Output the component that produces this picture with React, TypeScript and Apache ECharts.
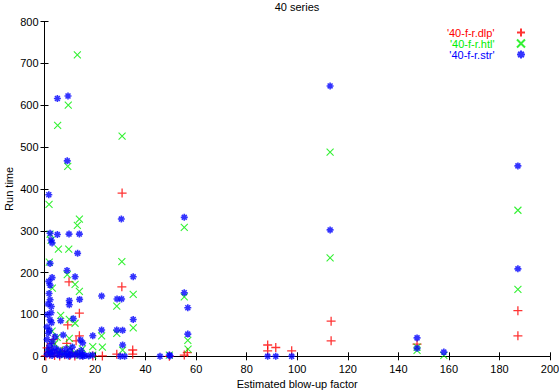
import React, { useEffect, useRef } from "react";
import * as echarts from "echarts";

const title = "40 series";
const xName = "Estimated blow-up factor";
const yName = "Run time";
const seriesNames = ["'40-f-r.dlp'", "'40-f-r.htl'", "'40-f-r.str'"];
const seriesColors = ["#ff0000", "#00ee00", "#0000ff"];

// [estimated blow-up factor, run time]
const dlpPoints: [number, number][] = [
  [30.7, 390], [9.7, 178], [30.6, 166], [13.8, 103], [9.2, 75], [13.8, 49],
  [12.5, 37], [8.8, 31], [2.8, 31], [34.9, 15], [34.9, 5], [28.6, 5],
  [22.9, 1], [19.1, 1], [55.3, 3], [56.5, 9], [88.3, 27], [88.3, 13],
  [91.5, 21], [97.8, 13], [113.4, 84], [113.4, 37], [187.3, 109], [187.3, 49],
  [147.4, 29], [49.4, 0], [2, 5], [3, 15], [4, 2], [5, 8], [6, 1], [7, 12],
  [8, 4], [10, 2], [11, 9], [12, 1], [13, 6], [15, 3], [1, 20], [0.5, 1],
  [3.5, 40], [1.5, 10],
];

const htlPoints: [number, number][] = [
  [13.0, 720], [9.4, 600], [5.2, 552], [30.7, 526], [9.2, 454], [1.8, 363],
  [113, 488], [113, 235], [55.3, 308], [13.8, 328], [13.0, 313], [2.6, 277],
  [2.2, 292], [5.5, 256], [9.6, 256], [30.6, 226], [1.9, 225], [9.0, 195],
  [12.1, 172], [3.1, 163], [13.8, 155], [35.1, 148], [55.3, 142], [28.6, 120],
  [35.1, 68], [56.7, 38], [56.8, 17], [22.6, 49], [19.1, 23], [22.9, 22],
  [28.6, 55], [30.9, 15], [6.4, 98], [9.8, 88], [12.1, 79], [9.8, 43],
  [187.3, 349], [187.3, 160], [147.4, 22], [147.4, 14], [158, 2], [49.4, 3],
  [2, 10], [4, 30], [6, 15], [8, 5], [10, 20], [12, 8], [14, 3], [3, 60],
  [5, 45], [15, 18], [19.1, 3],
];

const strPoints: [number, number][] = [
  [5.1, 616], [9.3, 622], [9.0, 467], [1.7, 386], [113, 646], [30.4, 328],
  [55.3, 332], [2.2, 294], [5.1, 291], [9.7, 292], [13.8, 292], [2.6, 278],
  [3.0, 271], [13.1, 246], [2.2, 222], [8.9, 205], [12.1, 190], [35.1, 190],
  [1.7, 179], [3.0, 188], [2.2, 170], [55.3, 152], [56.7, 116], [22.6, 144],
  [28.7, 137], [30.5, 137], [9.8, 133], [9.8, 123], [13.9, 136], [2.2, 135],
  [2.7, 119], [2.6, 104], [2.2, 87], [2.8, 80], [6.4, 85], [11.4, 90],
  [35.1, 88], [56.7, 53], [22.6, 63], [19.1, 49], [28.6, 63], [30.9, 62],
  [30.9, 27], [7.4, 51], [4.2, 47], [14.3, 39], [15.1, 32], [45.7, 0],
  [49.7, 1], [49.4, 3], [88.3, 0], [91.5, 0], [97.8, 0], [113, 302],
  [187.3, 455], [187.3, 209], [147.4, 44], [147.4, 19], [158, 10],
  [1, 5], [1.5, 15], [2, 25], [2.5, 8], [3, 2], [3.5, 12], [4, 20], [5, 5],
  [5.5, 15], [6, 2], [7, 10], [8, 3], [8.5, 18], [9, 6], [9.5, 1], [10, 12],
  [10.5, 4], [11, 22], [12, 3], [13, 8], [14, 1], [14.5, 14], [15, 5], [16, 2],
  [1, 40], [1.5, 55], [2, 62], [1, 70], [3, 35], [17.5, 1], [19, 3], [30, 0],
  [31.7, 0], [15.2, 0], [1.2, 100], [1.8, 150], [1.4, 125],
];

const seriesData = [dlpPoints, htlPoints, strPoints];

const plusPath = "path://M0,5L10,5M5,0L5,10";
const crossPath = "path://M1,1L9,9M1,9L9,1";
const starPath = "path://M0,5L10,5M5,0L5,10M1.5,1.5L8.5,8.5M1.5,8.5L8.5,1.5";
const symbols = [plusPath, crossPath, starPath];
const symbolSizes = [9, 7, 7];
const borderWidths = [1.3, 1.1, 1.6];

const font = "Liberation Sans";

export default function App() {
  const ref = useRef<HTMLDivElement>(null);
  useEffect(() => {
    if (!ref.current) return;
    const chart = echarts.init(ref.current, null, { renderer: "svg" });
    const axisCommon = {
      axisLine: { show: true, lineStyle: { color: "#000", width: 1 } },
      axisTick: { show: true, inside: true, length: 4, lineStyle: { color: "#000" } },
      splitLine: { show: false },
    };
    chart.setOption({
      animation: false,
      backgroundColor: "#fff",
      title: {
        text: title,
        left: 297,
        textAlign: "center",
        top: 1,
        padding: 0,
        textStyle: { fontFamily: font, fontSize: 11, fontWeight: "normal", color: "#000" },
      },
      legend: {
        orient: "vertical",
        right: 33,
        top: 27,
        align: "right",
        itemGap: 0,
        itemWidth: 9,
        itemHeight: 8,
        formatter: (name: string) => `{t|${name}}`,
        data: seriesNames.map((n, i) => ({
          name: n,
          icon: symbols[i],
          textStyle: {
            color: seriesColors[i],
            fontFamily: font,
            fontSize: 11,
            lineHeight: 11,
            rich: { t: { color: seriesColors[i], fontFamily: font, fontSize: 11, lineHeight: 11, padding: [0, 17, 0, 0] } },
          },
        })),
        padding: 0,
      },
      grid: {
        left: 44.5,
        right: 9,
        top: 21.5,
        bottom: 35.7,
        containLabel: false,
        outerBoundsMode: "none",
      },
      xAxis: [
        {
          type: "value",
          min: 0,
          max: 200,
          interval: 20,
          name: xName,
          nameLocation: "middle",
          nameGap: 22,
          nameMoveOverlap: false,
          nameTextStyle: { fontFamily: font, fontSize: 11, color: "#000" },
          axisLabel: { fontFamily: font, fontSize: 11, color: "#000", margin: 7 },
          ...axisCommon,
        },
        {
          type: "value",
          position: "top",
          min: 0,
          max: 200,
          interval: 20,
          axisLabel: { show: false },
          ...axisCommon,
        },
      ],
      yAxis: [
        {
          type: "value",
          min: 0,
          max: 800,
          interval: 100,
          name: yName,
          nameLocation: "middle",
          nameGap: 30,
          nameMoveOverlap: false,
          nameTextStyle: { fontFamily: font, fontSize: 11, lineHeight: 11, color: "#000" },
          axisLabel: { fontFamily: font, fontSize: 11, color: "#000", margin: 6 },
          ...axisCommon,
        },
        {
          type: "value",
          position: "right",
          min: 0,
          max: 800,
          interval: 100,
          axisLabel: { show: false },
          ...axisCommon,
        },
      ],
      series: seriesNames.map((n, i) => ({
        name: n,
        type: "scatter",
        xAxisIndex: 0,
        yAxisIndex: 0,
        data: seriesData[i],
        symbol: symbols[i],
        symbolSize: symbolSizes[i],
        itemStyle: {
          color: seriesColors[i],
          borderColor: seriesColors[i],
          borderWidth: borderWidths[i],
        },
        emphasis: { disabled: true },
      })),
    });
    return () => chart.dispose();
  }, []);
  return (
    <div
      ref={ref}
      style={{ position: "absolute", left: 0, top: 0, width: 559, height: 392 }}
    />
  );
}
